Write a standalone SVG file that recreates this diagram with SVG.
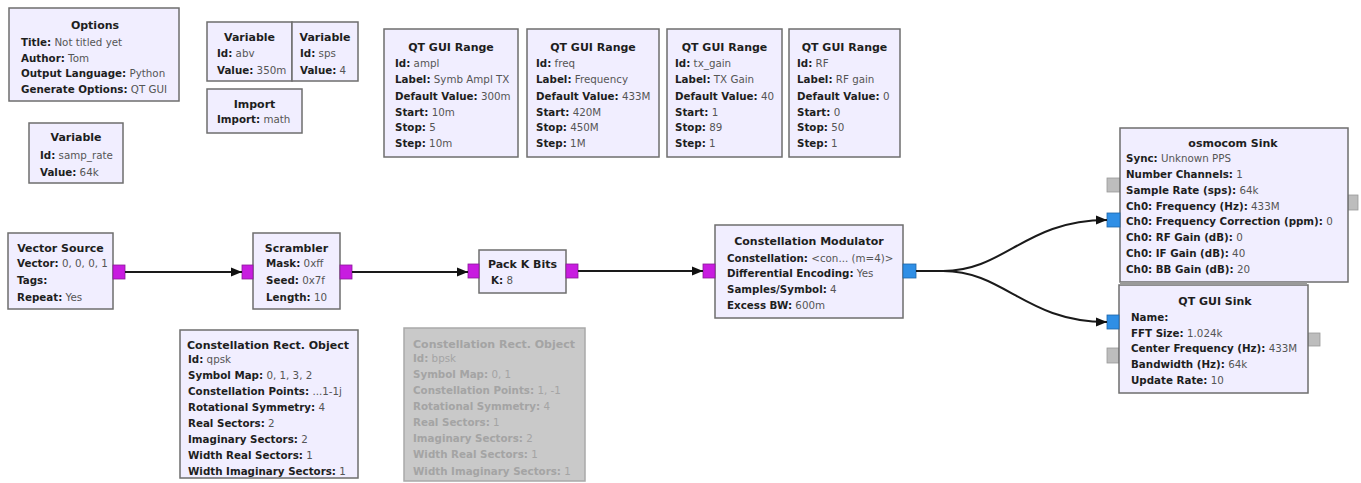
<svg xmlns="http://www.w3.org/2000/svg" width="1361" height="483" viewBox="0 0 1361 483">
<style>
.blk{fill:#f1eeff;stroke:#6e6e6e;stroke-width:1.5}
.dis{fill:#c9c9c9;stroke:#a9a9a9;stroke-width:1.5}
text{font-family:"DejaVu Sans","Liberation Sans",sans-serif;fill:#2a2a2a;font-size:10.3px}
.t{font-size:11px;font-weight:bold;text-anchor:middle;fill:#1e1e1e}
.b{font-weight:bold;fill:#1e1e1e}
.v{fill:#555}
.g text,.g .b,.g .t{fill:#a4a4a4}
.pb{fill:#c81ce0;stroke:#8a1a9a;stroke-width:0.8}
.pc{fill:#2f8fe6;stroke:#1d64a8;stroke-width:0.8}
.pm{fill:#bdbdbd;stroke:#999;stroke-width:0.8}
.c{fill:none;stroke:#1a1a1a;stroke-width:2}
</style>
<defs>
<marker id="arr" markerWidth="12" markerHeight="10" refX="11" refY="5" orient="auto" markerUnits="userSpaceOnUse"><path d="M0,0.5 L11,5 L0,9.5 z" fill="#111"/></marker>
</defs>
<rect width="1361" height="483" fill="#ffffff"/>

<g id="options">
<rect class="blk" x="9" y="8" width="170" height="93"/>
<text class="t" x="95" y="29">Options</text>
<text x="21" y="46"><tspan class="b">Title:</tspan> <tspan class="v">Not titled yet</tspan></text>
<text x="21" y="61.5"><tspan class="b">Author:</tspan> <tspan class="v">Tom</tspan></text>
<text x="21" y="77"><tspan class="b">Output Language:</tspan> <tspan class="v">Python</tspan></text>
<text x="21" y="92.5"><tspan class="b">Generate Options:</tspan> <tspan class="v">QT GUI</tspan></text>
</g>

<g id="var_samp_rate">
<rect class="blk" x="29" y="123" width="94" height="60"/>
<text class="t" x="76" y="141">Variable</text>
<text x="40" y="158.5"><tspan class="b">Id:</tspan> <tspan class="v">samp_rate</tspan></text>
<text x="40" y="175.5"><tspan class="b">Value:</tspan> <tspan class="v">64k</tspan></text>
</g>

<g id="var_abv">
<rect class="blk" x="207" y="22" width="85" height="59"/>
<text class="t" x="249.5" y="41">Variable</text>
<text x="217" y="57"><tspan class="b">Id:</tspan> <tspan class="v">abv</tspan></text>
<text x="217" y="73.5"><tspan class="b">Value:</tspan> <tspan class="v">350m</tspan></text>
</g>

<g id="var_sps">
<rect class="blk" x="292" y="22" width="66" height="59"/>
<text class="t" x="325" y="41">Variable</text>
<text x="300" y="57"><tspan class="b">Id:</tspan> <tspan class="v">sps</tspan></text>
<text x="300" y="73.5"><tspan class="b">Value:</tspan> <tspan class="v">4</tspan></text>
</g>

<g id="import">
<rect class="blk" x="207" y="89" width="95" height="44"/>
<text class="t" x="254.5" y="108">Import</text>
<text x="217" y="123"><tspan class="b">Import:</tspan> <tspan class="v">math</tspan></text>
</g>

<g id="range_ampl">
<rect class="blk" x="384" y="29" width="134" height="128"/>
<text class="t" x="451" y="51">QT GUI Range</text>
<text x="395" y="66.5"><tspan class="b">Id:</tspan> <tspan class="v">ampl</tspan></text>
<text x="395" y="83"><tspan class="b">Label:</tspan> <tspan class="v">Symb Ampl TX</tspan></text>
<text x="395" y="99.5"><tspan class="b">Default Value:</tspan> <tspan class="v">300m</tspan></text>
<text x="395" y="115.5"><tspan class="b">Start:</tspan> <tspan class="v">10m</tspan></text>
<text x="395" y="131"><tspan class="b">Stop:</tspan> <tspan class="v">5</tspan></text>
<text x="395" y="147"><tspan class="b">Step:</tspan> <tspan class="v">10m</tspan></text>
</g>

<g id="range_freq">
<rect class="blk" x="527" y="29" width="132" height="128"/>
<text class="t" x="593" y="51">QT GUI Range</text>
<text x="536" y="66.5"><tspan class="b">Id:</tspan> <tspan class="v">freq</tspan></text>
<text x="536" y="83"><tspan class="b">Label:</tspan> <tspan class="v">Frequency</tspan></text>
<text x="536" y="99.5"><tspan class="b">Default Value:</tspan> <tspan class="v">433M</tspan></text>
<text x="536" y="115.5"><tspan class="b">Start:</tspan> <tspan class="v">420M</tspan></text>
<text x="536" y="131"><tspan class="b">Stop:</tspan> <tspan class="v">450M</tspan></text>
<text x="536" y="147"><tspan class="b">Step:</tspan> <tspan class="v">1M</tspan></text>
</g>

<g id="range_tx_gain">
<rect class="blk" x="667" y="29" width="115" height="128"/>
<text class="t" x="724.5" y="51">QT GUI Range</text>
<text x="675" y="66.5"><tspan class="b">Id:</tspan> <tspan class="v">tx_gain</tspan></text>
<text x="675" y="83"><tspan class="b">Label:</tspan> <tspan class="v">TX Gain</tspan></text>
<text x="675" y="99.5"><tspan class="b">Default Value:</tspan> <tspan class="v">40</tspan></text>
<text x="675" y="115.5"><tspan class="b">Start:</tspan> <tspan class="v">1</tspan></text>
<text x="675" y="131"><tspan class="b">Stop:</tspan> <tspan class="v">89</tspan></text>
<text x="675" y="147"><tspan class="b">Step:</tspan> <tspan class="v">1</tspan></text>
</g>

<g id="range_rf">
<rect class="blk" x="789" y="29" width="111" height="128"/>
<text class="t" x="844.5" y="51">QT GUI Range</text>
<text x="797" y="66.5"><tspan class="b">Id:</tspan> <tspan class="v">RF</tspan></text>
<text x="797" y="83"><tspan class="b">Label:</tspan> <tspan class="v">RF gain</tspan></text>
<text x="797" y="99.5"><tspan class="b">Default Value:</tspan> <tspan class="v">0</tspan></text>
<text x="797" y="115.5"><tspan class="b">Start:</tspan> <tspan class="v">0</tspan></text>
<text x="797" y="131"><tspan class="b">Stop:</tspan> <tspan class="v">50</tspan></text>
<text x="797" y="147"><tspan class="b">Step:</tspan> <tspan class="v">1</tspan></text>
</g>

<g id="vector_source">
<rect class="blk" x="8" y="233" width="105" height="76"/>
<text class="t" x="60.5" y="252">Vector Source</text>
<text x="17" y="267"><tspan class="b">Vector:</tspan> <tspan class="v">0, 0, 0, 1</tspan></text>
<text x="17" y="283.5"><tspan class="b">Tags:</tspan></text>
<text x="17" y="300.5"><tspan class="b">Repeat:</tspan> <tspan class="v">Yes</tspan></text>
<rect class="pb" x="113" y="265" width="12" height="14"/>
</g>

<g id="scrambler">
<rect class="blk" x="253" y="233" width="87" height="76"/>
<text class="t" x="296.5" y="252">Scrambler</text>
<text x="266" y="267"><tspan class="b">Mask:</tspan> <tspan class="v">0xff</tspan></text>
<text x="266" y="283.5"><tspan class="b">Seed:</tspan> <tspan class="v">0x7f</tspan></text>
<text x="266" y="300.5"><tspan class="b">Length:</tspan> <tspan class="v">10</tspan></text>
<rect class="pb" x="242" y="265" width="11" height="14"/>
<rect class="pb" x="340" y="265" width="12" height="14"/>
</g>

<g id="pack_k_bits">
<rect class="blk" x="479" y="250" width="87" height="43"/>
<text class="t" x="522.5" y="268">Pack K Bits</text>
<text x="491" y="284"><tspan class="b">K:</tspan> <tspan class="v">8</tspan></text>
<rect class="pb" x="468" y="264" width="11" height="14"/>
<rect class="pb" x="566" y="264" width="12" height="14"/>
</g>

<g id="constellation_modulator">
<rect class="blk" x="715" y="225" width="188" height="93"/>
<text class="t" x="809" y="245">Constellation Modulator</text>
<text x="727" y="261.5"><tspan class="b">Constellation:</tspan> <tspan class="v">&lt;con... (m=4)&gt;</tspan></text>
<text x="727" y="277"><tspan class="b">Differential Encoding:</tspan> <tspan class="v">Yes</tspan></text>
<text x="727" y="293"><tspan class="b">Samples/Symbol:</tspan> <tspan class="v">4</tspan></text>
<text x="727" y="309"><tspan class="b">Excess BW:</tspan> <tspan class="v">600m</tspan></text>
<rect class="pb" x="703" y="264" width="12" height="14"/>
<rect class="pc" x="903" y="264" width="13" height="14"/>
</g>

<g id="osmocom_sink">
<rect class="pm" x="1107" y="178" width="13" height="14"/>
<rect class="pm" x="1348" y="195" width="10" height="15"/>
<rect class="blk" x="1120" y="128" width="228" height="154"/>
<text class="t" x="1233" y="147">osmocom Sink</text>
<text x="1126" y="161.5"><tspan class="b">Sync:</tspan> <tspan class="v">Unknown PPS</tspan></text>
<text x="1126" y="177.5"><tspan class="b">Number Channels:</tspan> <tspan class="v">1</tspan></text>
<text x="1126" y="193.5"><tspan class="b">Sample Rate (sps):</tspan> <tspan class="v">64k</tspan></text>
<text x="1126" y="209.5"><tspan class="b">Ch0: Frequency (Hz):</tspan> <tspan class="v">433M</tspan></text>
<text x="1126" y="225"><tspan class="b">Ch0: Frequency Correction (ppm):</tspan> <tspan class="v">0</tspan></text>
<text x="1126" y="240.5"><tspan class="b">Ch0: RF Gain (dB):</tspan> <tspan class="v">0</tspan></text>
<text x="1126" y="256.5"><tspan class="b">Ch0: IF Gain (dB):</tspan> <tspan class="v">40</tspan></text>
<text x="1126" y="272.5"><tspan class="b">Ch0: BB Gain (dB):</tspan> <tspan class="v">20</tspan></text>
<rect class="pc" x="1107" y="213" width="13" height="14"/>
</g>

<g id="qt_gui_sink">
<rect class="pm" x="1107" y="348" width="12" height="15"/>
<rect class="pm" x="1308" y="333" width="12" height="13"/>
<rect class="blk" x="1119" y="285" width="189" height="108"/>
<rect x="1120" y="282" width="187" height="3" fill="#9a9a9a"/>
<text class="t" x="1215" y="305">QT GUI Sink</text>
<text x="1131" y="320.5"><tspan class="b">Name:</tspan></text>
<text x="1131" y="336.5"><tspan class="b">FFT Size:</tspan> <tspan class="v">1.024k</tspan></text>
<text x="1131" y="352"><tspan class="b">Center Frequency (Hz):</tspan> <tspan class="v">433M</tspan></text>
<text x="1131" y="368"><tspan class="b">Bandwidth (Hz):</tspan> <tspan class="v">64k</tspan></text>
<text x="1131" y="383.5"><tspan class="b">Update Rate:</tspan> <tspan class="v">10</tspan></text>
<rect class="pc" x="1107" y="315" width="12" height="14"/>
</g>

<g id="constellation_rect_qpsk">
<rect class="blk" x="180" y="330" width="178" height="148"/>
<text class="t" x="268" y="349">Constellation Rect. Object</text>
<text x="188" y="362.5"><tspan class="b">Id:</tspan> <tspan class="v">qpsk</tspan></text>
<text x="188" y="378.5"><tspan class="b">Symbol Map:</tspan> <tspan class="v">0, 1, 3, 2</tspan></text>
<text x="188" y="394.5"><tspan class="b">Constellation Points:</tspan> <tspan class="v">...1-1j</tspan></text>
<text x="188" y="410.5"><tspan class="b">Rotational Symmetry:</tspan> <tspan class="v">4</tspan></text>
<text x="188" y="426.5"><tspan class="b">Real Sectors:</tspan> <tspan class="v">2</tspan></text>
<text x="188" y="442.5"><tspan class="b">Imaginary Sectors:</tspan> <tspan class="v">2</tspan></text>
<text x="188" y="458.5"><tspan class="b">Width Real Sectors:</tspan> <tspan class="v">1</tspan></text>
<text x="188" y="475"><tspan class="b">Width Imaginary Sectors:</tspan> <tspan class="v">1</tspan></text>
</g>

<g id="constellation_rect_disabled" class="g">
<rect class="dis" x="404" y="328" width="181" height="153"/>
<text class="t" x="494" y="348">Constellation Rect. Object</text>
<text x="413" y="362"><tspan class="b">Id:</tspan> bpsk</text>
<text x="413" y="378"><tspan class="b">Symbol Map:</tspan> 0, 1</text>
<text x="413" y="394"><tspan class="b">Constellation Points:</tspan> 1, -1</text>
<text x="413" y="410"><tspan class="b">Rotational Symmetry:</tspan> 4</text>
<text x="413" y="426"><tspan class="b">Real Sectors:</tspan> 1</text>
<text x="413" y="442"><tspan class="b">Imaginary Sectors:</tspan> 2</text>
<text x="413" y="458"><tspan class="b">Width Real Sectors:</tspan> 1</text>
<text x="413" y="474.5"><tspan class="b">Width Imaginary Sectors:</tspan> 1</text>
</g>

<g id="connectors">
<path class="c" d="M125,272 H242" marker-end="url(#arr)"/>
<path class="c" d="M352,272 H468" marker-end="url(#arr)"/>
<path class="c" d="M578,271 H703" marker-end="url(#arr)"/>
<path class="c" d="M916,271 H943 C1005,271 1025,220 1107,220" marker-end="url(#arr)"/>
<path class="c" d="M943,271 C1005,271 1025,322 1107,322" marker-end="url(#arr)"/>
</g>
</svg>
